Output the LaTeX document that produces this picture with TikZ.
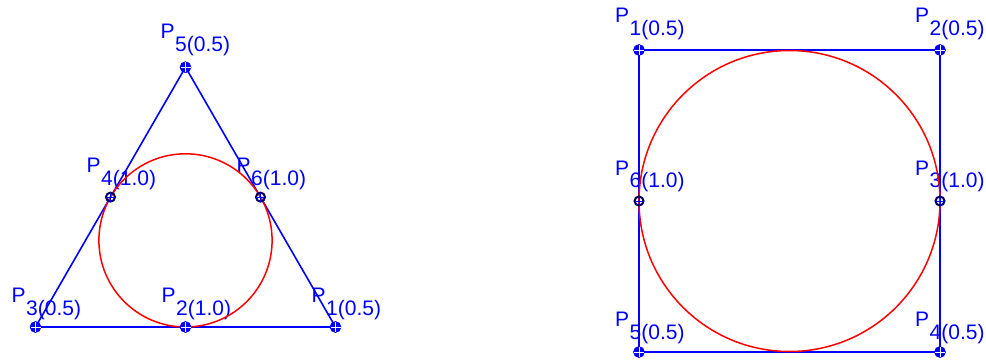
\documentclass[tikz,border=0pt]{standalone}
\usepackage{fontspec}
\setmainfont{Liberation Sans}
\usetikzlibrary{calc}
\definecolor{pblue}{RGB}{0,0,255}
\definecolor{pred}{RGB}{255,0,0}
\definecolor{pnavy}{RGB}{0,0,90}
\begin{document}
\begin{tikzpicture}[x=1pt,y=-1pt,
  poly/.style={draw=pblue,line width=1.6pt,line join=miter},
  curve/.style={draw=pred,line width=1.5pt},
  lbl/.style={text=pblue,inner sep=0pt,anchor=base west,font=\fontsize{21}{21}\selectfont},
  halfpt/.style={fill=pblue,draw=pblue,line width=0.6pt},
  onept/.style={draw=pnavy,line width=2pt}]
\useasboundingbox (0,0) rectangle (986,361);
% triangle control points
\coordinate (t1) at (335.5,327);
\coordinate (t2) at (185.5,327);
\coordinate (t3) at (35.5,327);
\coordinate (t4) at (110.5,197.1);
\coordinate (t5) at (185.5,67.2);
\coordinate (t6) at (260.5,197.1);
\coordinate (tc) at (185.5,240.4);
% square control points
\coordinate (s1) at (639,50);
\coordinate (s2) at (940,50);
\coordinate (s3) at (940,201);
\coordinate (s4) at (940,352);
\coordinate (s5) at (639,352);
\coordinate (s6) at (639,201);
\coordinate (sc) at (789.5,201);
% labels
\node[lbl] (lt1) at ($(t1)+(-24,-25)$) {P\kern0.5pt\raisebox{-13pt}{1(0.5)}};
\node[lbl] (lt2) at ($(t2)+(-24,-25)$) {P\kern0.5pt\raisebox{-13pt}{2(1.0)}};
\node[lbl] (lt3) at ($(t3)+(-24,-25)$) {P\kern0.5pt\raisebox{-13pt}{3(0.5)}};
\node[lbl] (lt4) at ($(t4)+(-24,-25)$) {P\kern0.5pt\raisebox{-13pt}{4(1.0)}};
\node[lbl] (lt5) at ($(t5)+(-25,-29)$) {P\kern0.5pt\raisebox{-13pt}{5(0.5)}};
\node[lbl] (lt6) at ($(t6)+(-24,-25)$) {P\kern0.5pt\raisebox{-13pt}{6(1.0)}};
\node[lbl] (ls1) at ($(s1)+(-24,-27)$) {P\kern0.5pt\raisebox{-13pt}{1(0.5)}};
\node[lbl] (ls2) at ($(s2)+(-25,-27)$) {P\kern0.5pt\raisebox{-13pt}{2(0.5)}};
\node[lbl] (ls3) at ($(s3)+(-25,-26)$) {P\kern0.5pt\raisebox{-13pt}{3(1.0)}};
\node[lbl] (ls4) at ($(s4)+(-25,-26)$) {P\kern0.5pt\raisebox{-13pt}{4(0.5)}};
\node[lbl] (ls5) at ($(s5)+(-24,-26)$) {P\kern0.5pt\raisebox{-13pt}{5(0.5)}};
\node[lbl] (ls6) at ($(s6)+(-24,-26)$) {P\kern0.5pt\raisebox{-13pt}{6(1.0)}};
% control polygons
\draw[poly] (t3) -- (t2) -- (t1) -- (t6) -- (t5) -- (t4) -- cycle;
\draw[poly] (s1) -- (s2) -- (s3) -- (s4) -- (s5) -- (s6) -- cycle;
% curves
\draw[curve] (tc) circle[radius=86.6];
\draw[curve] (sc) circle[radius=150.5];
% markers
\foreach \p in {t1,t2,t3,t5,s1,s2,s4,s5}{
  \fill[halfpt] (\p) circle[radius=5.5];
  \draw[white,line width=0.8pt] ($(\p)+(-5,0)$) -- ($(\p)+(5,0)$);
  \draw[white,line width=0.8pt] ($(\p)+(0,-5)$) -- ($(\p)+(0,5)$);
}
\foreach \p in {t4,t6,s3,s6}{
  \draw[onept] (\p) circle[radius=4.5];
  \draw[pblue,line width=1pt] ($(\p)+(-4.5,0)$) -- ($(\p)+(4.5,0)$);
  \draw[pblue,line width=1pt] ($(\p)+(0,-4.5)$) -- ($(\p)+(0,4.5)$);
}
\end{tikzpicture}
\end{document}
